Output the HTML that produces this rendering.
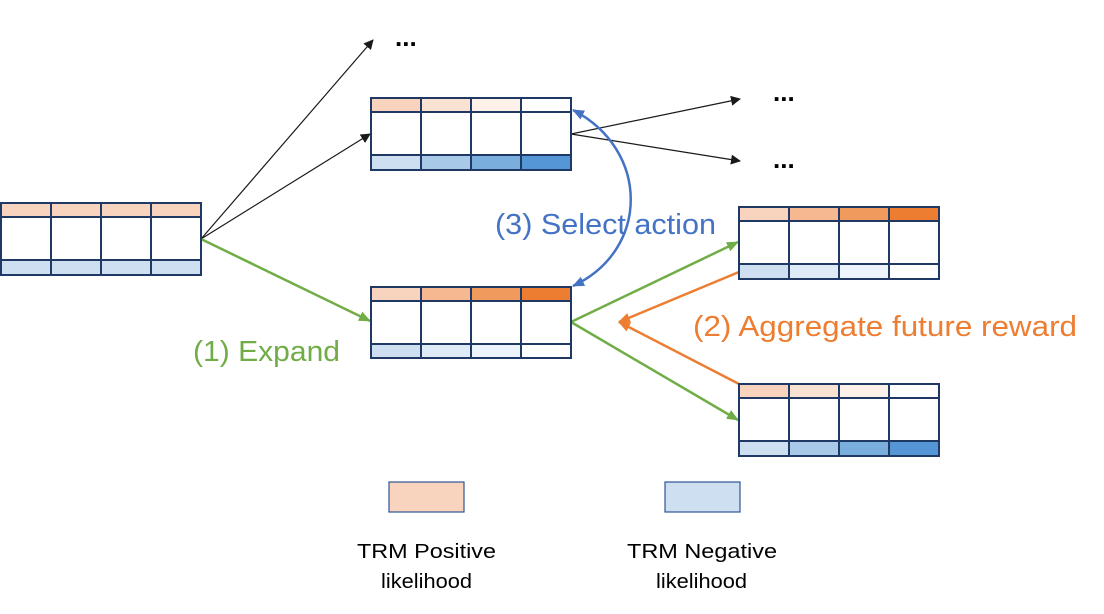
<!DOCTYPE html>
<html><head><meta charset="utf-8"><style>
html,body{margin:0;padding:0;background:#fff;}
svg{display:block;}
text{font-family:"Liberation Sans",sans-serif;}
</style></head><body>
<svg width="1104" height="614" viewBox="0 0 1104 614" xmlns="http://www.w3.org/2000/svg">
<defs>
<marker id="ab" markerWidth="10" markerHeight="10" refX="9" refY="5" orient="auto" markerUnits="userSpaceOnUse"><path d="M0,0 L10,5 L0,10 z" fill="#1a1a1a"/></marker>
<marker id="ag" markerWidth="12" markerHeight="10" refX="11" refY="5" orient="auto" markerUnits="userSpaceOnUse"><path d="M0,0 L12,5 L0,10 z" fill="#70ad47"/></marker>
<marker id="ao" markerWidth="12" markerHeight="10" refX="11" refY="5" orient="auto" markerUnits="userSpaceOnUse"><path d="M0,0 L12,5 L0,10 z" fill="#ed7d31"/></marker>
<marker id="abl" markerWidth="12" markerHeight="10" refX="11" refY="5" orient="auto" markerUnits="userSpaceOnUse"><path d="M0,0 L12,5 L0,10 z" fill="#4472c4"/></marker>
<marker id="abls" markerWidth="12" markerHeight="10" refX="1" refY="5" orient="auto" markerUnits="userSpaceOnUse"><path d="M12,0 L0,5 L12,10 z" fill="#4472c4"/></marker>
</defs>

<g stroke="#1a1a1a" stroke-width="1.2" fill="none">
<line x1="201" y1="239" x2="373" y2="40" marker-end="url(#ab)"/>
<line x1="201" y1="239" x2="370" y2="134" marker-end="url(#ab)"/>
<line x1="571" y1="134" x2="740" y2="99" marker-end="url(#ab)"/>
<line x1="571" y1="134" x2="740" y2="161" marker-end="url(#ab)"/>
</g>
<g stroke="#70ad47" stroke-width="2.5" fill="none">
<line x1="201" y1="239" x2="370" y2="321" marker-end="url(#ag)"/>
<line x1="571" y1="322" x2="738" y2="242" marker-end="url(#ag)"/>
<line x1="571" y1="322" x2="738" y2="420" marker-end="url(#ag)"/>
</g>
<g stroke="#ed7d31" stroke-width="2.5" fill="none">
<line x1="739" y1="272" x2="619" y2="322" marker-end="url(#ao)"/>
<line x1="739" y1="384" x2="619" y2="322" marker-end="url(#ao)"/>
</g>
<path d="M573,110 C650,150 650,250 573,286" stroke="#4472c4" stroke-width="2.5" fill="none" marker-start="url(#abls)" marker-end="url(#abl)"/>

<text x="395" y="46" font-size="26" font-weight="bold">...</text>
<text x="773" y="101" font-size="26" font-weight="bold">...</text>
<text x="773" y="168" font-size="26" font-weight="bold">...</text>

<g stroke="#1f3864" stroke-width="2">
<g transform="translate(1,203)">
<rect x="0" y="0" width="50" height="14" fill="#f8d3bd"/><rect x="50" y="0" width="50" height="14" fill="#f8d3bd"/><rect x="100" y="0" width="50" height="14" fill="#f8d3bd"/><rect x="150" y="0" width="50" height="14" fill="#f8d3bd"/>
<rect x="0" y="14" width="50" height="43" fill="#fff"/><rect x="50" y="14" width="50" height="43" fill="#fff"/><rect x="100" y="14" width="50" height="43" fill="#fff"/><rect x="150" y="14" width="50" height="43" fill="#fff"/>
<rect x="0" y="57" width="50" height="15" fill="#cddff0"/><rect x="50" y="57" width="50" height="15" fill="#cddff0"/><rect x="100" y="57" width="50" height="15" fill="#cddff0"/><rect x="150" y="57" width="50" height="15" fill="#cddff0"/>
</g>
<g transform="translate(371,98)">
<rect x="0" y="0" width="50" height="14" fill="#f8d3bd"/><rect x="50" y="0" width="50" height="14" fill="#fae2d3"/><rect x="100" y="0" width="50" height="14" fill="#fdf1e9"/><rect x="150" y="0" width="50" height="14" fill="#fff"/>
<rect x="0" y="14" width="50" height="43" fill="#fff"/><rect x="50" y="14" width="50" height="43" fill="#fff"/><rect x="100" y="14" width="50" height="43" fill="#fff"/><rect x="150" y="14" width="50" height="43" fill="#fff"/>
<rect x="0" y="57" width="50" height="15" fill="#cddff0"/><rect x="50" y="57" width="50" height="15" fill="#a9c9e8"/><rect x="100" y="57" width="50" height="15" fill="#7aafdd"/><rect x="150" y="57" width="50" height="15" fill="#5597d6"/>
</g>
<g transform="translate(371,287)">
<rect x="0" y="0" width="50" height="14" fill="#f8d3bd"/><rect x="50" y="0" width="50" height="14" fill="#f5b890"/><rect x="100" y="0" width="50" height="14" fill="#f09a5e"/><rect x="150" y="0" width="50" height="14" fill="#ed7d31"/>
<rect x="0" y="14" width="50" height="43" fill="#fff"/><rect x="50" y="14" width="50" height="43" fill="#fff"/><rect x="100" y="14" width="50" height="43" fill="#fff"/><rect x="150" y="14" width="50" height="43" fill="#fff"/>
<rect x="0" y="57" width="50" height="14" fill="#cddff0"/><rect x="50" y="57" width="50" height="14" fill="#deeaf6"/><rect x="100" y="57" width="50" height="14" fill="#eef4fb"/><rect x="150" y="57" width="50" height="14" fill="#fff"/>
</g>
<g transform="translate(739,207)">
<rect x="0" y="0" width="50" height="14" fill="#f8d3bd"/><rect x="50" y="0" width="50" height="14" fill="#f5b890"/><rect x="100" y="0" width="50" height="14" fill="#f09a5e"/><rect x="150" y="0" width="50" height="14" fill="#ed7d31"/>
<rect x="0" y="14" width="50" height="43" fill="#fff"/><rect x="50" y="14" width="50" height="43" fill="#fff"/><rect x="100" y="14" width="50" height="43" fill="#fff"/><rect x="150" y="14" width="50" height="43" fill="#fff"/>
<rect x="0" y="57" width="50" height="15" fill="#cddff0"/><rect x="50" y="57" width="50" height="15" fill="#deeaf6"/><rect x="100" y="57" width="50" height="15" fill="#eef4fb"/><rect x="150" y="57" width="50" height="15" fill="#fff"/>
</g>
<g transform="translate(739,384)">
<rect x="0" y="0" width="50" height="14" fill="#f8d3bd"/><rect x="50" y="0" width="50" height="14" fill="#fae2d3"/><rect x="100" y="0" width="50" height="14" fill="#fdf1e9"/><rect x="150" y="0" width="50" height="14" fill="#fff"/>
<rect x="0" y="14" width="50" height="43" fill="#fff"/><rect x="50" y="14" width="50" height="43" fill="#fff"/><rect x="100" y="14" width="50" height="43" fill="#fff"/><rect x="150" y="14" width="50" height="43" fill="#fff"/>
<rect x="0" y="57" width="50" height="15" fill="#cddff0"/><rect x="50" y="57" width="50" height="15" fill="#a9c9e8"/><rect x="100" y="57" width="50" height="15" fill="#7aafdd"/><rect x="150" y="57" width="50" height="15" fill="#5597d6"/>
</g>
</g>

<text x="495" y="234" font-size="29" fill="#4472c4" textLength="221" lengthAdjust="spacingAndGlyphs">(3) Select action</text>
<text x="693" y="336" font-size="29" fill="#ed7d31" textLength="384" lengthAdjust="spacingAndGlyphs">(2) Aggregate future reward</text>
<text x="193" y="361" font-size="29" fill="#70ad47" textLength="147" lengthAdjust="spacingAndGlyphs">(1) Expand</text>

<rect x="389" y="482" width="75" height="30" fill="#f8d3bd" stroke="#2f5597" stroke-width="1.2"/>
<rect x="665" y="482" width="75" height="30" fill="#cddff0" stroke="#2f5597" stroke-width="1.2"/>
<text x="357" y="558" font-size="20" textLength="139" lengthAdjust="spacingAndGlyphs">TRM Positive</text>
<text x="381" y="588" font-size="20" textLength="91" lengthAdjust="spacingAndGlyphs">likelihood</text>
<text x="627" y="558" font-size="20" textLength="150" lengthAdjust="spacingAndGlyphs">TRM Negative</text>
<text x="656" y="588" font-size="20" textLength="91" lengthAdjust="spacingAndGlyphs">likelihood</text>
</svg>
</body></html>
